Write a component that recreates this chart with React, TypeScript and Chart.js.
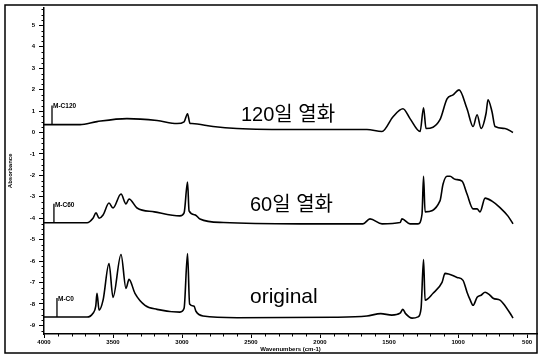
import React, { useEffect, useRef } from "react";
import { Chart, registerables } from "chart.js";

Chart.register(...registerables);

// ---- axis ticks ----
const X_TICKS = [4000, 3500, 3000, 2500, 2000, 1500, 1000, 500];
const Y_TICKS = [5, 4, 3, 2, 1, 0, -1, -2, -3, -4, -5, -6, -7, -8, -9];

// ---- series names / captions ----
const SERIES_NAMES = ["M-C120", "M-C60", "M-C0"];
const CAPTIONS = ["120일 열화", "60일 열화", "original"];
const MARKER_WN = [3942, 3928, 3906];

// ---- 120 days aged (top trace) ----
const WN_120 = [4000, 3739, 3616, 3399, 3181, 3036, 2985, 2960, 2942, 2928, 2775, 2602, 2145, 1660, 1551, 1471, 1399, 1348, 1275, 1250, 1232, 1131, 1080, 1036, 993, 935, 891, 862, 833, 797, 783, 754, 732, 660, 602];
const ABS_120 = [0.37, 0.37, 0.51, 0.65, 0.56, 0.42, 0.5, 0.88, 0.42, 0.42, 0.28, 0.19, 0.14, 0.14, 0.05, 0.74, 1.11, 0.65, 0.05, 1.16, 0.19, 0.6, 1.57, 1.76, 1.99, 1.11, 0.28, 0.83, 0.19, 0.9, 1.53, 0.97, 0.28, 0.19, 0.0];

// ---- 60 days aged (middle trace) ----
const WN_60 = [4000, 3688, 3645, 3623, 3601, 3572, 3529, 3500, 3442, 3406, 3384, 3326, 3200, 3015, 2985, 2960, 2949, 2906, 2870, 2700, 2145, 1689, 1638, 1551, 1420, 1406, 1348, 1290, 1261, 1250, 1239, 1131, 1109, 1080, 1058, 1022, 971, 935, 891, 862, 841, 804, 754, 696, 638, 602];
const ABS_60 = [-4.21, -4.21, -4.0, -3.75, -4.0, -3.85, -3.29, -3.52, -2.87, -3.33, -3.1, -3.52, -3.7, -3.89, -3.75, -2.31, -3.66, -3.84, -4.03, -4.2, -4.26, -4.26, -4.03, -4.26, -4.2, -4.03, -4.26, -4.26, -3.8, -2.04, -3.7, -3.19, -2.41, -2.04, -2.04, -2.18, -2.27, -2.87, -3.56, -3.56, -3.7, -3.06, -3.2, -3.5, -3.9, -4.26];

// ---- original (bottom trace) ----
const WN_0 = [4000, 3688, 3645, 3625, 3616, 3601, 3572, 3529, 3500, 3442, 3406, 3384, 3341, 3268, 3181, 3015, 2985, 2960, 2945, 2913, 2899, 2848, 2600, 1900, 1660, 1560, 1480, 1420, 1400, 1380, 1333, 1290, 1268, 1250, 1239, 1181, 1116, 1094, 1007, 964, 935, 913, 891, 862, 833, 804, 775, 746, 696, 674, 623, 602];
const ABS_0 = [-8.61, -8.61, -8.43, -8.1, -7.5, -8.29, -7.82, -6.11, -7.69, -5.69, -7.27, -6.85, -7.5, -8.06, -8.25, -8.38, -8.2, -5.65, -8.0, -8.1, -8.34, -8.56, -8.64, -8.62, -8.56, -8.45, -8.52, -8.43, -8.25, -8.45, -8.66, -8.6, -8.2, -5.93, -7.82, -7.5, -6.99, -6.57, -6.76, -6.9, -7.45, -7.8, -8.06, -7.69, -7.59, -7.45, -7.55, -7.73, -7.82, -7.96, -8.43, -8.66];

const CAPTION_POS = [
  { x: 241, y: 121, size: 20 },
  { x: 250, y: 211, size: 20 },
  { x: 250, y: 303, size: 21 },
];

const TICK_FONT = { family: '"Liberation Sans", Arial, sans-serif', size: 6, weight: "bold" as const };

const overlay = {
  id: "overlay",
  afterDraw(chart: any) {
    const ctx = chart.ctx as CanvasRenderingContext2D;
    const xs = chart.scales.x;
    const ys = chart.scales.y;
    ctx.save();
    ctx.strokeStyle = "#000";
    ctx.fillStyle = "#000";
    ctx.lineWidth = 1;
    // minor ticks
    ctx.beginPath();
    for (let w = 4000; w >= 450; w -= 100) {
      if (w % 500 === 0) continue;
      const px = Math.round(xs.getPixelForValue(w)) + 0.5;
      ctx.moveTo(px, ys.bottom);
      ctx.lineTo(px, ys.bottom + 2.5);
    }
    for (let v = -9.25; v <= 5.75; v += 0.25) {
      if (Math.abs(v - Math.round(v)) < 1e-6) continue;
      const py = Math.round(ys.getPixelForValue(v)) + 0.5;
      ctx.moveTo(xs.left - 2.5, py);
      ctx.lineTo(xs.left, py);
    }
    ctx.stroke();
    // outer frame
    ctx.lineWidth = 1.5;
    ctx.strokeRect(5, 5, 532, 348);
    // series markers
    ctx.lineWidth = 1.3;
    chart.data.datasets.forEach((ds: any, i: number) => {
      const base = ds.data[0].y;
      const px = xs.getPixelForValue(MARKER_WN[i]);
      const py = ys.getPixelForValue(base);
      ctx.beginPath();
      ctx.moveTo(px, py);
      ctx.lineTo(px, py - 19);
      ctx.stroke();
      ctx.font = 'bold 6.5px "Liberation Sans", Arial, sans-serif';
      ctx.textAlign = "left";
      ctx.textBaseline = "middle";
      ctx.fillText(SERIES_NAMES[i], px + 1, py - 18);
    });
    // captions
    ctx.textBaseline = "alphabetic";
    ctx.textAlign = "left";
    CAPTIONS.forEach((c, i) => {
      ctx.font = `${CAPTION_POS[i].size}px "Liberation Sans", "Noto Sans CJK KR", sans-serif`;
      ctx.fillText(c, CAPTION_POS[i].x, CAPTION_POS[i].y);
    });
    ctx.restore();
  },
};

export default function App() {
  const ref = useRef<HTMLCanvasElement | null>(null);
  useEffect(() => {
    if (!ref.current) return;
    const mk = (wn: number[], a: number[]) => wn.map((w, i) => ({ x: w, y: a[i] }));
    const common = {
      borderColor: "#000",
      borderWidth: 1.6,
      pointRadius: 0,
      fill: false,
      cubicInterpolationMode: "monotone" as const,
    };
    const chart = new Chart(ref.current, {
      type: "line",
      data: {
        datasets: [
          { label: SERIES_NAMES[0], data: mk(WN_120, ABS_120), ...common },
          { label: SERIES_NAMES[1], data: mk(WN_60, ABS_60), ...common },
          { label: SERIES_NAMES[2], data: mk(WN_0, ABS_0), ...common },
        ],
      },
      options: {
        animation: false,
        responsive: false,
        devicePixelRatio: 1,
        layout: { padding: { left: 0, top: 5, right: 3, bottom: 0 } },
        plugins: { legend: { display: false }, tooltip: { enabled: false } },
        scales: {
          x: {
            type: "linear",
            reverse: true,
            min: 428,
            max: 4000,
            afterBuildTicks: (s: any) => {
              s.ticks = X_TICKS.map((v) => ({ value: v }));
            },
            afterFit: (s: any) => {
              s.height = 22;
            },
            ticks: {
              color: "#000",
              font: TICK_FONT,
              padding: 1,
              maxRotation: 0,
              autoSkip: false,
              callback: (v: any) => String(v),
            },
            grid: { display: true, drawOnChartArea: false, drawTicks: true, tickLength: 4, color: "#000" },
            border: { display: true, color: "#000", width: 1.5 },
            title: {
              display: true,
              text: "Wavenumbers (cm-1)",
              color: "#000",
              font: TICK_FONT,
              padding: { top: 0, bottom: 3 },
            },
          },
          y: {
            type: "linear",
            min: -9.4,
            max: 5.83,
            afterBuildTicks: (s: any) => {
              s.ticks = Y_TICKS.map((v) => ({ value: v }));
            },
            afterFit: (s: any) => {
              s.width = 44;
            },
            ticks: {
              color: "#000",
              font: TICK_FONT,
              padding: 4,
              autoSkip: false,
              callback: (v: any) => String(v),
            },
            grid: { display: true, drawOnChartArea: false, drawTicks: true, tickLength: 5, color: "#000" },
            border: { display: true, color: "#000", width: 1.5 },
            title: {
              display: true,
              text: "Absorbance",
              color: "#000",
              font: TICK_FONT,
              padding: { top: 7, bottom: 0 },
            },
          },
        },
      },
      plugins: [overlay],
    });
    return () => chart.destroy();
  }, []);
  return (
    <div style={{ position: "absolute", left: 0, top: 0, width: 540, height: 356, background: "#fff" }}>
      <canvas ref={ref} width={540} height={356} />
    </div>
  );
}
